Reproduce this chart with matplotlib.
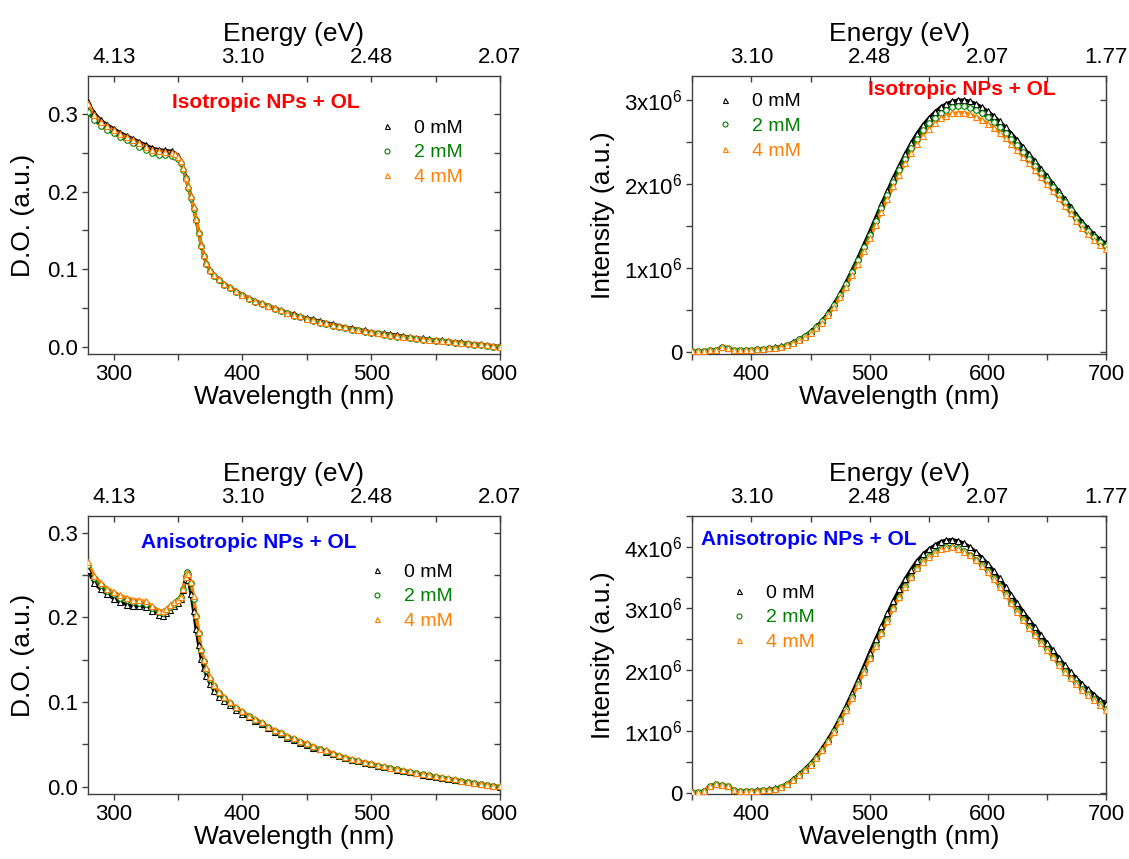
# -*- coding: utf-8 -*-

"""Absorption (D.O.) and PL spectra of NPs + OL for 0, 2 and 4 mM."""

import matplotlib
matplotlib.use('Agg')
import matplotlib.pyplot as plt
from matplotlib.ticker import MultipleLocator, FixedLocator, NullFormatter

plt.rcParams['font.family'] = ['Liberation Sans', 'DejaVu Sans']
plt.rcParams['mathtext.fontset'] = 'custom'
plt.rcParams['mathtext.rm'] = 'Liberation Sans'
plt.rcParams['mathtext.default'] = 'regular'

# ---------------------------------------------------------------- data
labels = ['0 mM', '2 mM', '4 mM']
colors = ['black', '#008000', '#ff8000']
markers = ['^', 'o', '^']

# absorption, isotropic NPs
wl_abs_iso = [280, 285, 290, 295, 300, 305, 310, 315, 320, 325, 330, 335, 340,
              345, 348, 350, 352, 354, 356, 358, 360, 362, 364, 366, 368, 370,
              372, 375, 378, 382, 386, 390, 395, 400, 405, 410, 415, 420, 425,
              430, 435, 440, 445, 450, 455, 460, 465, 470, 475, 480, 485, 490,
              495, 500, 505, 510, 515, 520, 525, 530, 535, 540, 545, 550, 555,
              560, 565, 570, 575, 580, 585, 590, 595, 600]
do_iso_0 = [0.315, 0.301, 0.292, 0.286, 0.281, 0.276, 0.272, 0.268, 0.264,
            0.260, 0.256, 0.254, 0.253, 0.252, 0.249, 0.246, 0.240, 0.231,
            0.219, 0.207, 0.194, 0.180, 0.165, 0.148, 0.131, 0.118, 0.108,
            0.099, 0.092, 0.087, 0.081, 0.077, 0.072, 0.067, 0.063, 0.059,
            0.056, 0.053, 0.050, 0.047, 0.044, 0.042, 0.039, 0.037, 0.035,
            0.033, 0.031, 0.029, 0.027, 0.025, 0.024, 0.022, 0.021, 0.019,
            0.018, 0.017, 0.016, 0.015, 0.0135, 0.0125, 0.0115, 0.0105,
            0.0095, 0.0088, 0.008, 0.0072, 0.0064, 0.0056, 0.0047, 0.0038,
            0.003, 0.0022, 0.0012, 0.0003]
do_iso_2 = [0.302, 0.292, 0.285, 0.279, 0.275, 0.270, 0.266, 0.262, 0.258,
            0.254, 0.250, 0.247, 0.247, 0.246, 0.244, 0.242, 0.237, 0.228,
            0.217, 0.205, 0.192, 0.178, 0.163, 0.146, 0.130, 0.117, 0.107,
            0.098, 0.091, 0.086, 0.080, 0.076, 0.071, 0.066, 0.062, 0.058,
            0.055, 0.052, 0.049, 0.046, 0.043, 0.040, 0.038, 0.035, 0.033,
            0.031, 0.029, 0.027, 0.025, 0.024, 0.022, 0.021, 0.019, 0.018,
            0.017, 0.015, 0.014, 0.013, 0.012, 0.011, 0.010, 0.009, 0.0082,
            0.0075, 0.0067, 0.006, 0.0052, 0.0044, 0.0035, 0.0027, 0.0019,
            0.001, 0.0, -0.001]
do_iso_4 = [0.313, 0.299, 0.290, 0.284, 0.279, 0.274, 0.270, 0.266, 0.262,
            0.258, 0.254, 0.252, 0.251, 0.250, 0.248, 0.245, 0.239, 0.230,
            0.218, 0.207, 0.194, 0.180, 0.165, 0.148, 0.131, 0.118, 0.108,
            0.099, 0.092, 0.087, 0.081, 0.077, 0.072, 0.067, 0.063, 0.059,
            0.056, 0.053, 0.050, 0.047, 0.044, 0.041, 0.039, 0.036, 0.034,
            0.032, 0.030, 0.028, 0.026, 0.025, 0.023, 0.022, 0.020, 0.019,
            0.018, 0.016, 0.015, 0.014, 0.013, 0.012, 0.011, 0.010, 0.009,
            0.0085, 0.0077, 0.007, 0.006, 0.0053, 0.0045, 0.0036, 0.0028,
            0.002, 0.001, 0.0]

# absorption, anisotropic NPs
wl_abs_ani = [280, 285, 290, 295, 300, 305, 310, 315, 320, 325, 330, 335, 338,
              341, 344, 347, 350, 352, 354, 356, 357, 358, 360, 362, 364, 366,
              368, 370, 372, 375, 378, 382, 386, 390, 395, 400, 405, 410, 415,
              420, 425, 430, 435, 440, 445, 450, 455, 460, 465, 470, 475, 480,
              485, 490, 495, 500, 505, 510, 515, 520, 525, 530, 535, 540, 545,
              550, 555, 560, 565, 570, 575, 580, 585, 590, 595, 600]
do_ani_0 = [0.256, 0.240, 0.233, 0.227, 0.222, 0.218, 0.215, 0.213, 0.213,
            0.212, 0.208, 0.203, 0.202, 0.205, 0.209, 0.213, 0.217, 0.222,
            0.232, 0.245, 0.247, 0.244, 0.228, 0.208, 0.186, 0.167, 0.151,
            0.140, 0.131, 0.121, 0.113, 0.106, 0.101, 0.096, 0.091, 0.086,
            0.082, 0.078, 0.074, 0.069, 0.065, 0.062, 0.058, 0.055, 0.052,
            0.049, 0.046, 0.044, 0.041, 0.039, 0.036, 0.034, 0.032, 0.030,
            0.028, 0.0265, 0.025, 0.023, 0.0215, 0.020, 0.0187, 0.017,
            0.0157, 0.0143, 0.013, 0.0118, 0.0105, 0.0093, 0.008, 0.0067,
            0.0055, 0.0043, 0.003, 0.0019, 0.0008, 0.0]
do_ani_2 = [0.262, 0.246, 0.238, 0.231, 0.227, 0.223, 0.220, 0.218, 0.217,
            0.216, 0.211, 0.206, 0.205, 0.208, 0.212, 0.216, 0.220, 0.224,
            0.234, 0.249, 0.253, 0.251, 0.240, 0.222, 0.201, 0.181, 0.161,
            0.148, 0.138, 0.127, 0.119, 0.111, 0.105, 0.099, 0.093, 0.088,
            0.083, 0.079, 0.075, 0.070, 0.066, 0.063, 0.059, 0.056, 0.053,
            0.050, 0.047, 0.044, 0.042, 0.039, 0.036, 0.034, 0.032, 0.030,
            0.028, 0.027, 0.025, 0.023, 0.022, 0.0205, 0.019, 0.0175, 0.016,
            0.0145, 0.0135, 0.012, 0.0107, 0.0095, 0.008, 0.0067, 0.0055,
            0.0043, 0.003, 0.0019, 0.0008, 0.0]
do_ani_4 = [0.265, 0.249, 0.241, 0.234, 0.230, 0.226, 0.223, 0.221, 0.220,
            0.219, 0.213, 0.208, 0.207, 0.210, 0.214, 0.218, 0.221, 0.224,
            0.234, 0.248, 0.252, 0.251, 0.242, 0.225, 0.203, 0.183, 0.163,
            0.150, 0.140, 0.129, 0.120, 0.112, 0.106, 0.100, 0.094, 0.089,
            0.084, 0.080, 0.076, 0.071, 0.067, 0.064, 0.060, 0.057, 0.054,
            0.051, 0.048, 0.045, 0.043, 0.040, 0.037, 0.035, 0.033, 0.031,
            0.029, 0.0275, 0.026, 0.024, 0.0225, 0.021, 0.0197, 0.018,
            0.0165, 0.015, 0.014, 0.0126, 0.0112, 0.010, 0.0085, 0.0072,
            0.006, 0.0048, 0.0035, 0.0024, 0.0013, 0.0005]

# photoluminescence (x1e6 a.u.), both samples share the same grid
wl_pl = list(range(350, 701, 5))
pl_iso_0 = [0.012, 0.013, 0.014, 0.016, 0.022, 0.058, 0.048, 0.020, 0.021,
            0.023, 0.026, 0.029, 0.035, 0.042, 0.051, 0.064, 0.083, 0.112,
            0.150, 0.191, 0.242, 0.302, 0.373, 0.468, 0.575, 0.695, 0.828,
            0.970, 1.118, 1.275, 1.430, 1.595, 1.760, 1.915, 2.070, 2.215,
            2.355, 2.485, 2.600, 2.700, 2.785, 2.855, 2.915, 2.955, 2.985,
            3.000, 3.000, 2.985, 2.955, 2.915, 2.865, 2.810, 2.745, 2.675,
            2.600, 2.520, 2.435, 2.355, 2.270, 2.180, 2.095, 2.005, 1.915,
            1.820, 1.730, 1.635, 1.545, 1.470, 1.400, 1.340, 1.290]
pl_iso_2 = [0.012, 0.013, 0.014, 0.016, 0.021, 0.056, 0.046, 0.019, 0.020,
            0.022, 0.025, 0.028, 0.034, 0.041, 0.050, 0.062, 0.081, 0.109,
            0.146, 0.186, 0.236, 0.294, 0.363, 0.455, 0.560, 0.678, 0.807,
            0.945, 1.090, 1.243, 1.395, 1.555, 1.718, 1.870, 2.022, 2.165,
            2.300, 2.428, 2.540, 2.637, 2.722, 2.790, 2.848, 2.885, 2.912,
            2.925, 2.925, 2.908, 2.878, 2.840, 2.792, 2.740, 2.678, 2.610,
            2.540, 2.460, 2.378, 2.300, 2.218, 2.130, 2.048, 1.960, 1.872,
            1.780, 1.690, 1.598, 1.508, 1.435, 1.365, 1.305, 1.255]
pl_iso_4 = [0.012, 0.013, 0.014, 0.016, 0.020, 0.055, 0.045, 0.018, 0.020,
            0.022, 0.025, 0.028, 0.033, 0.040, 0.048, 0.060, 0.078, 0.105,
            0.140, 0.178, 0.225, 0.280, 0.346, 0.435, 0.536, 0.650, 0.775,
            0.910, 1.050, 1.200, 1.350, 1.510, 1.670, 1.820, 1.970, 2.110,
            2.245, 2.370, 2.480, 2.575, 2.660, 2.725, 2.780, 2.815, 2.840,
            2.850, 2.850, 2.830, 2.800, 2.765, 2.720, 2.670, 2.610, 2.545,
            2.480, 2.400, 2.320, 2.245, 2.165, 2.080, 2.000, 1.915, 1.830,
            1.740, 1.650, 1.560, 1.470, 1.400, 1.330, 1.270, 1.220]
pl_ani_0 = [0.005, 0.008, 0.030, 0.115, 0.135, 0.128, 0.112, 0.045, 0.026,
            0.026, 0.031, 0.037, 0.044, 0.055, 0.072, 0.101, 0.148, 0.216,
            0.300, 0.385, 0.480, 0.595, 0.727, 0.878, 1.040, 1.222, 1.410,
            1.617, 1.830, 2.052, 2.280, 2.495, 2.705, 2.915, 3.120, 3.305,
            3.475, 3.630, 3.770, 3.875, 3.960, 4.025, 4.080, 4.110, 4.115,
            4.095, 4.055, 3.995, 3.915, 3.825, 3.725, 3.610, 3.485, 3.350,
            3.215, 3.080, 2.945, 2.815, 2.690, 2.565, 2.440, 2.318, 2.195,
            2.080, 1.965, 1.865, 1.765, 1.680, 1.595, 1.515, 1.440]
pl_ani_2 = [0.005, 0.008, 0.030, 0.115, 0.135, 0.126, 0.111, 0.045, 0.025,
            0.025, 0.030, 0.035, 0.042, 0.052, 0.068, 0.096, 0.142, 0.207,
            0.288, 0.368, 0.460, 0.570, 0.697, 0.842, 0.998, 1.175, 1.355,
            1.555, 1.762, 1.977, 2.197, 2.403, 2.603, 2.808, 3.010, 3.190,
            3.360, 3.515, 3.660, 3.765, 3.850, 3.915, 3.970, 3.995, 4.000,
            3.975, 3.930, 3.870, 3.790, 3.700, 3.600, 3.487, 3.362, 3.228,
            3.093, 2.958, 2.823, 2.698, 2.573, 2.453, 2.333, 2.213, 2.093,
            1.983, 1.873, 1.778, 1.683, 1.603, 1.523, 1.440, 1.360]
pl_ani_4 = [0.005, 0.008, 0.030, 0.115, 0.135, 0.125, 0.110, 0.045, 0.025,
            0.025, 0.030, 0.035, 0.042, 0.052, 0.068, 0.095, 0.140, 0.205,
            0.285, 0.365, 0.455, 0.565, 0.690, 0.835, 0.990, 1.165, 1.345,
            1.545, 1.750, 1.965, 2.185, 2.390, 2.590, 2.795, 3.000, 3.180,
            3.350, 3.505, 3.650, 3.755, 3.840, 3.905, 3.960, 3.985, 3.990,
            3.965, 3.920, 3.860, 3.780, 3.690, 3.590, 3.475, 3.350, 3.215,
            3.080, 2.945, 2.810, 2.685, 2.560, 2.440, 2.320, 2.200, 2.080,
            1.970, 1.860, 1.765, 1.670, 1.590, 1.510, 1.425, 1.345]

# tick labels
abs_top_ticks = [300, 400, 500, 600]
abs_top_labels = ['4.13', '3.10', '2.48', '2.07']
pl_top_ticks = [400, 500, 600, 700]
pl_top_labels = ['3.10', '2.48', '2.07', '1.77']
pl_iso_yticks = [0, 1e6, 2e6, 3e6]
pl_iso_ylabels = ['0', '1x10$^6$', '2x10$^6$', '3x10$^6$']
pl_ani_yticks = [0, 1e6, 2e6, 3e6, 4e6]
pl_ani_ylabels = ['0', '1x10$^6$', '2x10$^6$', '3x10$^6$', '4x10$^6$']

SPINE = '#404040'
TICK_FS = 16
LABEL_FS = 19


def style_axes(ax, top_ticks, top_labels, xlim):
    """Origin-like frame: out ticks bottom/left, in ticks top/right."""
    for s in ax.spines.values():
        s.set_color(SPINE)
        s.set_linewidth(1.0)
    ax.xaxis.set_major_locator(MultipleLocator(100))
    ax.xaxis.set_minor_locator(MultipleLocator(50))
    ax.tick_params(which='both', direction='out', length=4, width=1.0,
                   color=SPINE, labelsize=TICK_FS, pad=3)
    ax.set_xlim(*xlim)
    ax.set_xlabel('Wavelength (nm)', fontsize=LABEL_FS, labelpad=0)

    # right side: same ticks, pointing inward, no labels
    right = ax.secondary_yaxis('right')
    right.yaxis.set_major_locator(FixedLocator(ax.get_yticks()))
    right.yaxis.set_minor_locator(
        FixedLocator(ax.yaxis.get_minorticklocs()))
    right.yaxis.set_major_formatter(NullFormatter())
    right.tick_params(which='both', direction='in', length=4, width=1.0,
                      color=SPINE)
    right.spines['right'].set_color(SPINE)

    # secondary energy axis on top, same wavelength positions
    top = ax.twiny()
    top.set_xlim(*xlim)
    top.set_xticks(top_ticks)
    top.set_xticklabels(top_labels)
    top.xaxis.set_minor_locator(MultipleLocator(50))
    top.tick_params(which='both', direction='in', length=4, width=1.0,
                    color=SPINE, labelsize=TICK_FS, pad=6)
    top.set_xlabel('Energy (eV)', fontsize=LABEL_FS, labelpad=4)
    for s in top.spines.values():
        s.set_visible(False)
    return top


def draw_series(ax, x, ys, scale=1.0):
    for y, lab, c, m in zip(ys, labels, colors, markers):
        ax.plot(x, [v * scale for v in y], color=c, lw=2.3, zorder=2)
        ax.plot(x, [v * scale for v in y], ls='none', marker=m, ms=4.0,
                mfc='white', mec=c, mew=0.8, label=lab, zorder=3)


def add_legend(ax, anchor):
    leg = ax.legend(loc='upper left', bbox_to_anchor=anchor, frameon=False,
                    fontsize=14, handlelength=1.0, handletextpad=0.9,
                    labelspacing=0.36, borderpad=0, borderaxespad=0,
                    markerscale=0.9)
    for txt, c in zip(leg.get_texts(), colors):
        txt.set_color(c)
    return leg


fig = plt.figure(figsize=(11.29, 8.59), dpi=100)
ax_tl = fig.add_axes([0.0779, 0.5879, 0.3649, 0.3236])
ax_tr = fig.add_axes([0.6133, 0.5879, 0.3663, 0.3236])
ax_bl = fig.add_axes([0.0779, 0.0757, 0.3649, 0.3236])
ax_br = fig.add_axes([0.6133, 0.0757, 0.3663, 0.3236])

# absorption, isotropic
draw_series(ax_tl, wl_abs_iso, [do_iso_0, do_iso_2, do_iso_4])
ax_tl.set_ylim(-0.0095, 0.349)
ax_tl.yaxis.set_major_locator(MultipleLocator(0.1))
ax_tl.yaxis.set_minor_locator(MultipleLocator(0.05))
ax_tl.yaxis.set_major_formatter(plt.FormatStrFormatter('%.1f'))
ax_tl.set_ylabel('D.O. (a.u.)', fontsize=LABEL_FS)
style_axes(ax_tl, abs_top_ticks, abs_top_labels, (280, 600))
add_legend(ax_tl, (0.702, 0.845))
ax_tl.text(0.432, 0.906, 'Isotropic NPs + OL', transform=ax_tl.transAxes,
           color='#ff0000', fontsize=15, fontweight='bold',
           ha='center', va='center')

# absorption, anisotropic
draw_series(ax_bl, wl_abs_ani, [do_ani_0, do_ani_2, do_ani_4])
ax_bl.set_ylim(-0.0086, 0.3196)
ax_bl.yaxis.set_major_locator(MultipleLocator(0.1))
ax_bl.yaxis.set_minor_locator(MultipleLocator(0.05))
ax_bl.yaxis.set_major_formatter(plt.FormatStrFormatter('%.1f'))
ax_bl.set_ylabel('D.O. (a.u.)', fontsize=LABEL_FS)
style_axes(ax_bl, abs_top_ticks, abs_top_labels, (280, 600))
add_legend(ax_bl, (0.678, 0.83))
ax_bl.text(0.391, 0.906, 'Anisotropic NPs + OL', transform=ax_bl.transAxes,
           color='#0000ff', fontsize=15, fontweight='bold',
           ha='center', va='center')

# PL, isotropic
draw_series(ax_tr, wl_pl, [pl_iso_0, pl_iso_2, pl_iso_4], scale=1e6)
ax_tr.set_ylim(-0.027e6, 3.286e6)
ax_tr.set_yticks(pl_iso_yticks)
ax_tr.set_yticklabels(pl_iso_ylabels)
ax_tr.yaxis.set_minor_locator(MultipleLocator(0.5e6))
ax_tr.set_ylabel('Intensity (a.u.)', fontsize=LABEL_FS)
style_axes(ax_tr, pl_top_ticks, pl_top_labels, (350, 700))
add_legend(ax_tr, (0.055, 0.94))
ax_tr.text(0.652, 0.953, 'Isotropic NPs + OL', transform=ax_tr.transAxes,
           color='#ff0000', fontsize=15, fontweight='bold',
           ha='center', va='center')

# PL, anisotropic
draw_series(ax_br, wl_pl, [pl_ani_0, pl_ani_2, pl_ani_4], scale=1e6)
ax_br.set_ylim(-0.02e6, 4.5e6)
ax_br.set_yticks(pl_ani_yticks)
ax_br.set_yticklabels(pl_ani_ylabels)
ax_br.yaxis.set_minor_locator(MultipleLocator(0.5e6))
ax_br.set_ylabel('Intensity (a.u.)', fontsize=LABEL_FS)
style_axes(ax_br, pl_top_ticks, pl_top_labels, (350, 700))
add_legend(ax_br, (0.088, 0.755))
ax_br.text(0.282, 0.917, 'Anisotropic NPs + OL', transform=ax_br.transAxes,
           color='#0000ff', fontsize=15, fontweight='bold',
           ha='center', va='center')

# y labels: x is the right edge of the rotated text
for ax, x in [(ax_tl, -0.129), (ax_bl, -0.129), (ax_tr, -0.187),
              (ax_br, -0.187)]:
    ax.yaxis.set_label_coords(x, 0.5)

fig.savefig('out.png', dpi=100)
